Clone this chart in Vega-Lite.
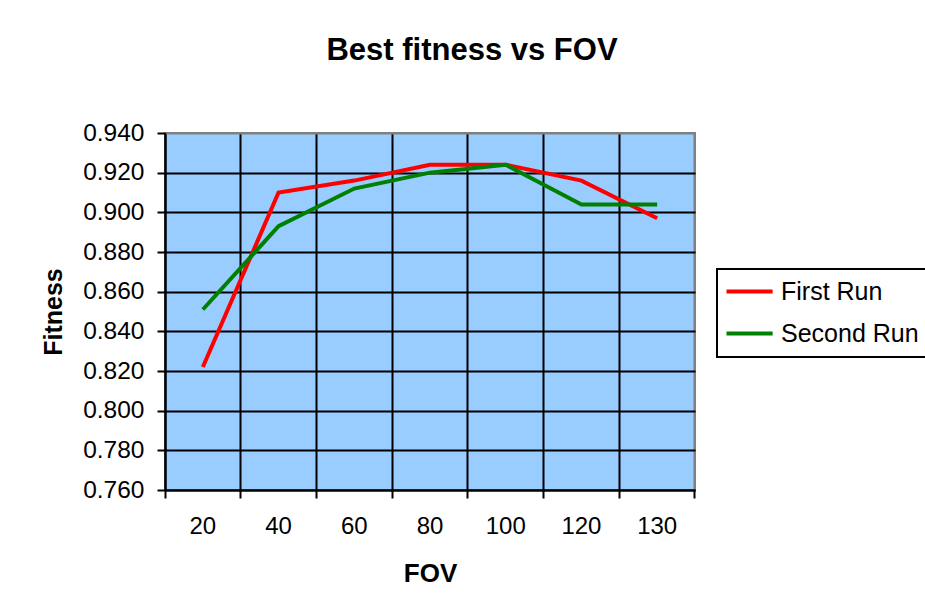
{
  "$schema": "https://vega.github.io/schema/vega-lite/v6.json",
  "autosize": {"type": "none"},
  "width": 530,
  "height": 357,
  "padding": {"left": 165, "top": 133, "right": 230, "bottom": 124},
  "background": "white",
  "title": {
    "text": "Best fitness vs FOV",
    "font": "Liberation Sans",
    "fontSize": 31,
    "fontWeight": "bold",
    "color": "black",
    "anchor": "middle",
    "frame": "group",
    "baseline": "alphabetic",
    "dx": 42,
    "offset": 29
  },
  "data": {
    "values": [
      {"FOV": "20", "run": "First Run", "fitness": 0.822},
      {"FOV": "40", "run": "First Run", "fitness": 0.910},
      {"FOV": "60", "run": "First Run", "fitness": 0.916},
      {"FOV": "80", "run": "First Run", "fitness": 0.924},
      {"FOV": "100", "run": "First Run", "fitness": 0.924},
      {"FOV": "120", "run": "First Run", "fitness": 0.916},
      {"FOV": "130", "run": "First Run", "fitness": 0.897},
      {"FOV": "20", "run": "Second Run", "fitness": 0.851},
      {"FOV": "40", "run": "Second Run", "fitness": 0.893},
      {"FOV": "60", "run": "Second Run", "fitness": 0.912},
      {"FOV": "80", "run": "Second Run", "fitness": 0.920},
      {"FOV": "100", "run": "Second Run", "fitness": 0.924},
      {"FOV": "120", "run": "Second Run", "fitness": 0.904},
      {"FOV": "130", "run": "Second Run", "fitness": 0.904}
    ]
  },
  "mark": {"type": "line", "strokeWidth": 4, "strokeCap": "butt", "strokeJoin": "miter"},
  "encoding": {
    "x": {
      "field": "FOV",
      "type": "ordinal",
      "sort": ["20", "40", "60", "80", "100", "120", "130"],
      "scale": {"type": "band", "paddingInner": 0, "paddingOuter": 0},
      "axis": {
        "title": "FOV",
        "titleFont": "Liberation Sans",
        "titleFontSize": 26,
        "titleFontWeight": "bold",
        "titleColor": "black",
        "titleBaseline": "alphabetic",
        "titleX": 265,
        "titleY": 91,
        "labelAngle": 0,
        "labelFont": "Liberation Sans",
        "labelFontSize": 24,
        "labelColor": "black",
        "labelPadding": 16,
        "labelBaseline": "top",
        "bandPosition": 1,
        "tickExtra": true,
        "tickSize": 8,
        "tickColor": "black",
        "tickWidth": 2,
        "domainColor": "black",
        "domainWidth": 2,
        "grid": true,
        "gridWidth": 2,
        "gridOpacity": 1,
        "gridColor": {"condition": {"test": "datum.value === '130'", "value": "#808080"}, "value": "black"}
      }
    },
    "y": {
      "field": "fitness",
      "type": "quantitative",
      "scale": {"domain": [0.76, 0.94], "nice": false, "zero": false},
      "axis": {
        "title": "Fitness",
        "titleFont": "Liberation Sans",
        "titleFontSize": 25,
        "titleFontWeight": "bold",
        "titleColor": "black",
        "titleBaseline": "alphabetic",
        "titleAngle": -90,
        "titleX": -104,
        "titleY": 178.5,
        "values": [0.76, 0.78, 0.8, 0.82, 0.84, 0.86, 0.88, 0.9, 0.92, 0.94],
        "format": ".3f",
        "labelFont": "Liberation Sans",
        "labelFontSize": 24.5,
        "labelColor": "black",
        "labelPadding": 13,
        "tickSize": 8,
        "tickColor": "black",
        "tickWidth": 2,
        "domainColor": "black",
        "domainWidth": 2,
        "grid": true,
        "gridWidth": 2,
        "gridOpacity": 1,
        "gridColor": {"condition": {"test": "datum.value > 0.939", "value": "#808080"}, "value": "black"}
      }
    },
    "color": {
      "field": "run",
      "type": "nominal",
      "scale": {"domain": ["First Run", "Second Run"], "range": ["#FF0000", "#008000"]},
      "legend": {
        "title": null,
        "orient": "none",
        "legendX": 552,
        "legendY": 136,
        "padding": 10,
        "strokeColor": "black",
        "fillColor": "white",
        "symbolType": "M-2.6,0H6.63",
        "symbolSize": 100,
        "symbolStrokeWidth": 4,
        "labelFont": "Liberation Sans",
        "labelFontSize": 25,
        "labelColor": "black",
        "labelOffset": 29,
        "rowPadding": 16
      }
    }
  },
  "config": {
    "view": {"fill": "#99CCFF", "stroke": "#808080", "strokeWidth": 2},
    "legend": {"strokeWidth": 2}
  }
}
